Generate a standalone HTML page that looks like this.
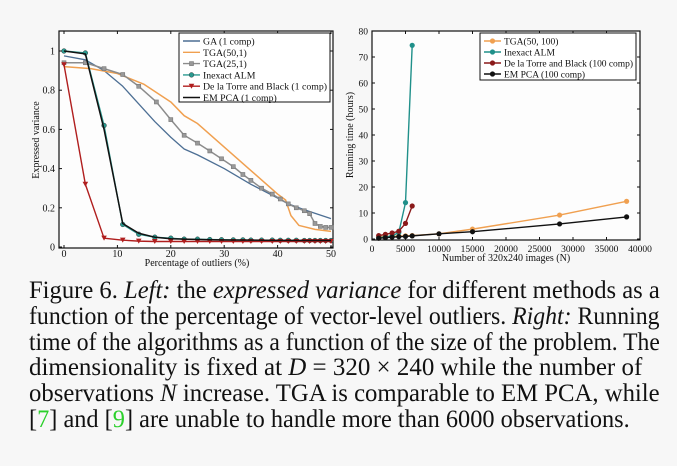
<!DOCTYPE html>
<html><head><meta charset="utf-8">
<style>
body{margin:0;width:677px;height:466px;background:#f7f7f7;overflow:hidden;font-family:"Liberation Serif",serif;}
#charts{position:absolute;left:0;top:0;}
#caption{position:absolute;left:29px;top:278px;width:632px;font-size:25px;line-height:25.8px;color:#111;}
#caption div{white-space:nowrap;transform-origin:0 0;height:25.8px;}
#caption i{font-style:italic}
.g{color:#2bd02b}
</style></head><body>
<svg id="charts" width="677" height="275" xmlns="http://www.w3.org/2000/svg" font-family="Liberation Serif, serif"></svg>
<div id="caption">
<div class="ln">Figure 6. <i>Left:</i> the <i>expressed variance</i> for different methods as a</div>
<div class="ln">function of the percentage of vector-level outliers. <i>Right:</i> Running</div>
<div class="ln">time of the algorithms as a function of the size of the problem. The</div>
<div class="ln">dimensionality is fixed at <i>D</i> = 320 × 240 while the number of</div>
<div class="ln">observations <i>N</i> increase. TGA is comparable to EM PCA, while</div>
<div class="ln last">[<span class="g">7</span>] and [<span class="g">9</span>] are unable to handle more than 6000 observations.</div>
</div>
<script>
// Left chart data
const gaX=[0,4,7.5,11,14,17,20,22.5,25,30,35,40,42,45,50];
const gaY=[0.975,0.955,0.90,0.82,0.73,0.64,0.56,0.50,0.47,0.40,0.32,0.25,0.22,0.19,0.145];
const tga50X=[0,5,10,15,20,22.5,25,30,35,40,41.5,42.5,44,47,50];
const tga50Y=[0.92,0.91,0.885,0.83,0.74,0.67,0.63,0.51,0.39,0.27,0.24,0.16,0.11,0.09,0.08];
const tga25X=[0,4,7.5,11,14,17.3,20,22.5,25,27.3,29.5,31.7,33.5,35,37,39,40.5,42,43.5,45,46,47,48,49,50];
const tga25Y=[0.94,0.94,0.91,0.88,0.82,0.74,0.65,0.57,0.53,0.49,0.45,0.41,0.37,0.34,0.30,0.27,0.245,0.22,0.20,0.185,0.17,0.12,0.105,0.10,0.10];
const almX=[0,4,7.5,11,14,17,20,22.5,25,27.3,29.5,31.7,33.5,35,37,39,40.5,42,43.5,45,46,47,48,49,50];
const almY=[1.0,0.99,0.62,0.115,0.065,0.05,0.045,0.04,0.04,0.038,0.037,0.036,0.036,0.035,0.035,0.035,0.034,0.034,0.034,0.033,0.033,0.033,0.033,0.033,0.033];
const emX=[0,4,7.5,11,14,17,20,25,30,40,50];
const emY=[1.0,0.985,0.6,0.12,0.07,0.05,0.042,0.038,0.036,0.034,0.033];
const dlX=[0,4,7.5,11,14,17,20,22.5,25,27.3,29.5,31.7,33.5,35,37,39,40.5,42,43.5,45,46,47,48,49,50];
const dlY=[0.93,0.32,0.045,0.035,0.03,0.028,0.028,0.028,0.028,0.028,0.028,0.028,0.028,0.028,0.028,0.028,0.028,0.028,0.028,0.028,0.028,0.028,0.028,0.028,0.028];
const lxTicks=[0,10,20,30,40,50];
const lyTicks=[0,0.2,0.4,0.6,0.8,1];
const lyLabels=["0","0.2","0.4","0.6","0.8","1"];
// Right chart data
const nX=[1000,2000,3000,4000,5000,6000,10000,15000,28000,38000];
const tgaR=[1.0,1.0,1.1,1.1,1.2,1.3,2.0,3.8,9.2,14.5];
const almRX=[1000,2000,3000,4000,5000,6000];
const almR=[0.5,0.8,1.2,2.5,14,74.5];
const dlR=[1.3,1.8,2.3,3.0,6.0,12.7];
const emR=[0.3,0.5,0.7,0.9,1.0,1.2,2.0,2.8,5.8,8.5];
const rxTicks=[0,5000,10000,15000,20000,25000,30000,35000,40000];
const ryTicks=[0,10,20,30,40,50,60,70,80];

const svg=document.getElementById('charts');
const NS='http://www.w3.org/2000/svg';
function mk(tag,attrs,parent){const e=document.createElementNS(NS,tag);for(const k in attrs)e.setAttribute(k,attrs[k]);(parent||svg).appendChild(e);return e;}
function txt(s,x,y,size,anchor,parent,rot){const t=mk('text',{x:x,y:y,'font-size':size,'text-anchor':anchor||'middle',fill:'#111'},parent);if(rot)t.setAttribute('transform','rotate(-90 '+x+' '+y+')');t.textContent=s;return t;}

const lx=v=>64+v*(267/50), ly=v=>247-v*196;
const L={x0:59,x1:333,y0:31,y1:248};
const rx=v=>372+v*(268/40000), ry=v=>239-v*2.6;
const R={x0:372,x1:640,y0:31,y1:240};

function frame(b,name){const r=mk('rect',{x:b.x0,y:b.y0,width:b.x1-b.x0,height:b.y1-b.y0,fill:'#fdfdfd',stroke:'#111','stroke-width':1.2});}
frame(L,'left-plot-area');frame(R,'right-plot-area');

lxTicks.forEach(v=>{const x=lx(v);mk('line',{x1:x,y1:L.y1,x2:x,y2:L.y1-3,stroke:'#111'});mk('line',{x1:x,y1:L.y0,x2:x,y2:L.y0+3,stroke:'#111'});const t=txt(String(v),x,257,10);});
lyTicks.forEach((v,i)=>{const y=ly(v);mk('line',{x1:L.x0,y1:y,x2:L.x0+3,y2:y,stroke:'#111'});mk('line',{x1:L.x1,y1:y,x2:L.x1-3,y2:y,stroke:'#111'});const t=txt(lyLabels[i],55,y+3.5,10,'end');});
let t=txt('Percentage of outliers (%)',197,266,10);
t=txt('Expressed variance',39,140,10,'middle',null,true);

rxTicks.forEach(v=>{const x=rx(v);mk('line',{x1:x,y1:R.y1,x2:x,y2:R.y1-3,stroke:'#111'});mk('line',{x1:x,y1:R.y0,x2:x,y2:R.y0+3,stroke:'#111'});const t=txt(String(v),x,252,9.5);});
ryTicks.forEach(v=>{const y=ry(v);mk('line',{x1:R.x0,y1:y,x2:R.x0+3,y2:y,stroke:'#111'});mk('line',{x1:R.x1,y1:y,x2:R.x1-3,y2:y,stroke:'#111'});const t=txt(String(v),368,y+3.5,9.5,'end');});
t=txt('Number of 320x240 images (N)',506,261,10);
t=txt('Running time (hours)',353,135,10,'middle',null,true);

function marker(type,x,y,c,g){
  if(type==='sq')mk('rect',{x:x-2,y:y-2,width:4,height:4,fill:'#999',stroke:'#777','stroke-width':0.6},g);
  else if(type==='o')mk('circle',{cx:x,cy:y,r:2.4,fill:c,stroke:'#222','stroke-width':0.4},g);
  else if(type==='tri')mk('path',{d:`M${x-2.8},${y-2.5}L${x+2.8},${y-2.5}L${x},${y+2.5}Z`,fill:c},g);
  else if(type==='dot')mk('circle',{cx:x,cy:y,r:2.6,fill:c},g);
}
function series(xs,ys,fx,fy,color,w,mtype,name){
  const g=mk('g',{});
  mk('polyline',{points:xs.map((v,i)=>fx(v)+','+fy(ys[i])).join(' '),fill:'none',stroke:color,'stroke-width':w,'stroke-linejoin':'round'},g);
  if(mtype)xs.forEach((v,i)=>marker(mtype,fx(v),fy(ys[i]),color,g));
}
series(gaX,gaY,lx,ly,'#4d6f94',1.3,null,'series-ga');
series(tga50X,tga50Y,lx,ly,'#f0a050',1.5,null,'series-tga50');
series(tga25X,tga25Y,lx,ly,'#8c8c8c',1.5,'sq','series-tga25');
series(almX,almY,lx,ly,'#2a9a90',1.4,'o','series-inexact-alm');
series(dlX,dlY,lx,ly,'#b01e1e',1.4,'tri','series-de-la-torre');
series(emX,emY,lx,ly,'#111',1.5,null,'series-em-pca');

series(nX,tgaR,rx,ry,'#f0a050',1.4,'dot','series-tga-right');
series(almRX,almR,rx,ry,'#20908a',1.4,'dot','series-alm-right');
series(almRX,dlR,rx,ry,'#8a1a1a',1.4,'dot','series-de-la-torre-right');
series(nX,emR,rx,ry,'#111',1.4,'dot','series-em-pca-right');

function legend(x0,y0,w,h,fs,entries,name){
  const g=mk('g',{});
  mk('rect',{x:x0,y:y0,width:w,height:h,fill:'#fff',stroke:'#111','stroke-width':1},g);
  entries.forEach((e,i)=>{const y=y0+8+i*e[3];
    const eg=mk('g',{},g);
    mk('line',{x1:x0+4,y1:y,x2:x0+21,y2:y,stroke:e[1],'stroke-width':1.4},eg);
    if(e[2])marker(e[2],x0+12.5,y,e[1],eg);
    const tt=txt(e[0],x0+24,y+3.5,fs,'start',eg);
    const maxW=w-27;const bw=tt.getComputedTextLength();if(bw>maxW)tt.setAttribute('textLength',maxW);});
}
legend(179,33,151,69,9.8,[['GA (1 comp)','#4d6f94',null,11.3],['TGA(50,1)','#f0a050',null,11.3],['TGA(25,1)','#8c8c8c','sq',11.3],['Inexact ALM','#2a9a90','o',11.3],['De la Torre and Black (1 comp)','#b01e1e','tri',11.3],['EM PCA (1 comp)','#111',null,11.3]],'left-legend');
legend(480,33,156,47,9.5,[['TGA(50, 100)','#f0a050','dot',11],['Inexact ALM','#20908a','dot',11],['De la Torre and Black (100 comp)','#8a1a1a','dot',11],['EM PCA (100 comp)','#111','dot',11]],'right-legend');

// caption line fitting
const lines=[...document.querySelectorAll('#caption .ln')];
let fsum=0,fn=0;
lines.forEach(d=>{if(d.classList.contains('last'))return;const w=d.scrollWidth;const f=631/w;fsum+=f;fn++;d.style.display='block';d.style.transform='scaleX('+f+')';});
const avg=fsum/fn;
lines.forEach(d=>{if(d.classList.contains('last'))d.style.transform='scaleX('+avg+')';});
</script>
</body></html>
